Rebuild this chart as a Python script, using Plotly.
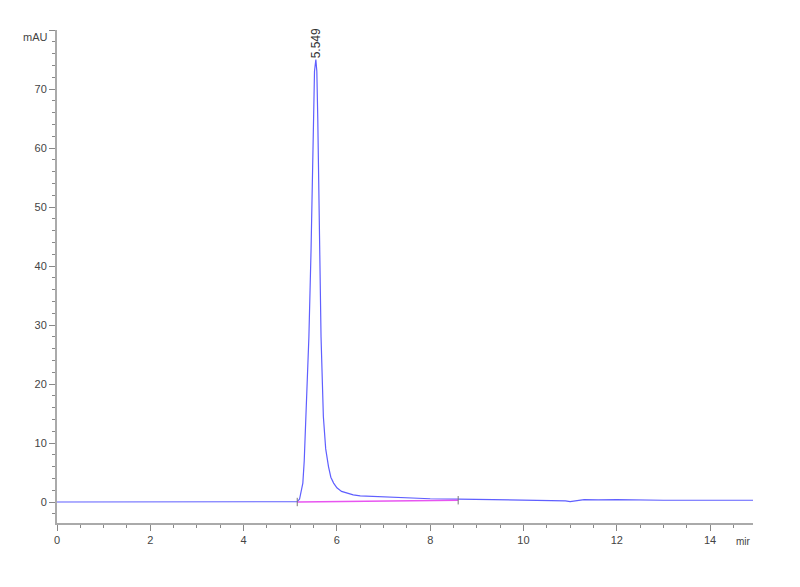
import plotly.graph_objects as go

# Chromatogram trace (retention time in min, signal in mAU)
time_min = [0.0, 2.0, 4.0, 5.0, 5.15, 5.2, 5.23, 5.27, 5.3, 5.34, 5.4, 5.446, 5.48, 5.5, 5.52,
            5.549, 5.57, 5.59, 5.61, 5.624, 5.66, 5.71, 5.76, 5.82, 5.87, 5.93, 6.0, 6.1,
            6.21, 6.35, 6.5, 7.0, 7.5, 8.0, 8.6, 9.0, 9.5, 10.0, 10.5, 10.9, 11.0, 11.1,
            11.3, 11.6, 12.0, 13.0, 14.0, 15.0]
signal_mau = [0.0, 0.0, 0.0, 0.0, 0.05, 0.5, 1.5, 3.2, 7.0, 14.5, 28.0, 42.7, 58.0, 68.0, 73.0,
              75.0, 73.0, 65.0, 52.0, 42.7, 28.0, 14.5, 9.0, 6.0, 4.2, 3.2, 2.4, 1.8,
              1.5, 1.2, 1.05, 0.85, 0.7, 0.55, 0.5, 0.45, 0.38, 0.4, 0.32, 0.2, 0.05, 0.15,
              0.4, 0.35, 0.4, 0.3, 0.3, 0.3]

# Integration baseline
baseline_time = [5.15, 8.6]
baseline_mau = [0.0, 0.3]

# Peak label
peak_time = 5.549
peak_height = 75.0
peak_label = "5.549"

x_ticks = [0, 2, 4, 6, 8, 10, 12, 14]
y_ticks = [0, 10, 20, 30, 40, 50, 60, 70, 80]
y_ticktext = ["0", "10", "20", "30", "40", "50", "60", "70", ""]
y_unit = "mAU"
x_unit = "mir"

fig = go.Figure()
fig.add_trace(go.Scatter(x=time_min, y=signal_mau, mode="lines",
                         line=dict(color="#5f5fff", width=1.2), showlegend=False))
fig.add_trace(go.Scatter(x=baseline_time, y=baseline_mau, mode="lines",
                         line=dict(color="#e855f0", width=1.6), showlegend=False))
fig.add_trace(go.Scatter(x=baseline_time, y=baseline_mau, mode="markers",
                         marker=dict(symbol="line-ns", size=6,
                                     line=dict(color="#777777", width=1)),
                         showlegend=False))

fig.add_annotation(x=peak_time, y=peak_height, text=peak_label, textangle=-90,
                   showarrow=False, xanchor="center", yanchor="bottom", yshift=-1,
                   font=dict(family="Liberation Sans, Arial", size=12, color="#333333"))
fig.add_annotation(x=0, y=80, xref="paper", yref="y", text=y_unit, showarrow=False,
                   xanchor="right", yanchor="middle", xshift=-7, yshift=-7,
                   font=dict(family="Liberation Sans, Arial", size=11, color="#444444"))
fig.add_annotation(x=14.92, y=0, xref="x", yref="paper", text=x_unit, showarrow=False,
                   xanchor="right", yanchor="top", yshift=-11,
                   font=dict(family="Liberation Sans, Arial", size=10, color="#444444"))

axis_font = dict(family="Liberation Sans, Arial", size=11, color="#444444")
fig.update_layout(
    width=800, height=587,
    margin=dict(l=49, r=55, t=22, b=72),
    plot_bgcolor="white", paper_bgcolor="white",
    xaxis=dict(range=[0, 14.92], tickvals=x_ticks, ticks="outside", ticklen=6,
               tickcolor="#888888", showline=True, linecolor="#aaaaaa", linewidth=2,
               showgrid=False, zeroline=False, tickfont=axis_font,
               minor=dict(dtick=0.5, ticks="outside", ticklen=3, tickcolor="#888888")),
    yaxis=dict(range=[-3.56, 80], tickvals=y_ticks, ticktext=y_ticktext, ticks="outside",
               ticklen=6, tickcolor="#888888", showline=True, linecolor="#aaaaaa",
               linewidth=2, showgrid=False, zeroline=False, tickfont=axis_font,
               minor=dict(dtick=2, ticks="outside", ticklen=3, tickcolor="#888888")),
)

fig.write_html("out.html")
